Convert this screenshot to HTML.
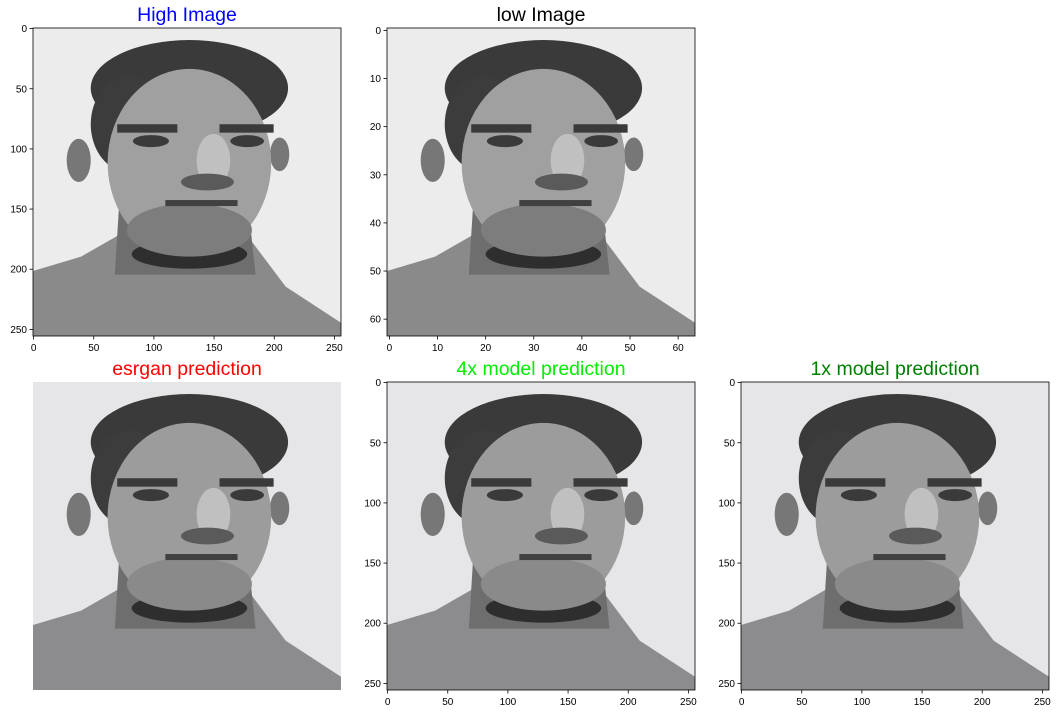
<!DOCTYPE html>
<html><head><meta charset="utf-8"><style>
html,body{margin:0;padding:0;background:#fff;}
svg{display:block;font-family:"Liberation Sans","DejaVu Sans",sans-serif;}
</style></head><body>
<svg id="fig" width="1059" height="714" viewBox="0 0 1059 714"></svg>
<script>
const NS="http://www.w3.org/2000/svg";
const panelTitles=["High Image","low Image","esrgan prediction","4x model prediction","1x model prediction"];
const titleColors=["#0000ff","#000000","#ff0000","#00ee00","#008000"];
const imageSizes=[256,64,256,256,256];
const showAxes=[true,true,false,true,true];
const ticks256=[0,50,100,150,200,250];
const ticks64=[0,10,20,30,40,50,60];
const panelBoxes=[[33,28],[387,28],[33,382],[387,382],[741,382]];
const PW=308,PH=308;
const svg=document.getElementById('fig');
function mk(tag,attrs,parent){const e=document.createElementNS(NS,tag);for(const k in attrs)e.setAttribute(k,attrs[k]);(parent||svg).appendChild(e);return e;}
function face(g,s,style){
  // s: scale from 256-unit coordinates to pixels
  const T=v=>v*s;
  const soft=style>0;
  mk('rect',{x:0,y:0,width:T(256),height:T(256),fill:soft?'#e6e6e8':'#ececec'},g);
  mk('polygon',{points:[[0,202],[40,190],[75,170],[180,175],[210,215],[256,245],[256,256],[0,256]].map(p=>T(p[0])+','+T(p[1])).join(' '),fill:soft?'#8c8c8e':'#8a8a8a'},g);
  mk('polygon',{points:[[72,140],[178,140],[185,205],[68,205]].map(p=>T(p[0])+','+T(p[1])).join(' '),fill:'#6e6e6e'},g);
  mk('ellipse',{cx:T(130),cy:T(50),rx:T(82),ry:T(40),fill:'#3a3a3a'},g);
  mk('ellipse',{cx:T(80),cy:T(80),rx:T(32),ry:T(40),fill:'#3c3c3c'},g);
  mk('ellipse',{cx:T(38),cy:T(110),rx:T(10),ry:T(18),fill:'#777'},g);
  mk('ellipse',{cx:T(205),cy:T(105),rx:T(8),ry:T(14),fill:'#777'},g);
  mk('ellipse',{cx:T(130),cy:T(112),rx:T(68),ry:T(78),fill:soft?'#9c9c9c':'#a0a0a0'},g);
  mk('ellipse',{cx:T(130),cy:T(188),rx:T(48),ry:T(12),fill:'#2e2e2e'},g);
  mk('ellipse',{cx:T(130),cy:T(168),rx:T(52),ry:T(22),fill:soft?'#8a8a8a':'#7d7d7d'},g);
  mk('rect',{x:T(70),y:T(80),width:T(50),height:T(7),fill:'#3a3a3a'},g);
  mk('rect',{x:T(155),y:T(80),width:T(45),height:T(7),fill:'#3a3a3a'},g);
  mk('ellipse',{cx:T(98),cy:T(94),rx:T(15),ry:T(5),fill:'#3a3a3a'},g);
  mk('ellipse',{cx:T(178),cy:T(94),rx:T(14),ry:T(5),fill:'#3a3a3a'},g);
  mk('ellipse',{cx:T(150),cy:T(110),rx:T(14),ry:T(22),fill:'#c0c0c0'},g);
  mk('ellipse',{cx:T(145),cy:T(128),rx:T(22),ry:T(7),fill:'#5a5a5a'},g);
  mk('rect',{x:T(110),y:T(143),width:T(60),height:T(5),fill:'#404040'},g);
}
panelTitles.forEach((title,i)=>{
  const [x0,y0]=panelBoxes[i];
  const n=imageSizes[i];
  const xs=v=>x0+v*PW/n;
  const ys=v=>y0+v*PH/n;
  const g=mk('g',{transform:`translate(${x0},${y0})`});
  
  
  mk('clipPath',{id:'c'+i},g);
  face(g,PW/256,i>=2?1:0);
  const t=mk('text',{x:x0+PW/2,y:y0-7,'text-anchor':'middle','font-size':'19.5',fill:titleColors[i]});
  t.textContent=title;
  
  
  if(!showAxes[i]) return;
  const fr=mk('rect',{x:x0,y:y0,width:PW,height:PH,fill:'none',stroke:'#000','stroke-width':0.8});
  
  
  const tk=n===64?ticks64:ticks256;
  tk.forEach(v=>{
    const px=xs(v+0.5),py=ys(v+0.5);
    mk('line',{x1:px,y1:y0+PH,x2:px,y2:y0+PH+3.5,stroke:'#000','stroke-width':0.8});
    const lx=mk('text',{x:px,y:y0+PH+15,'text-anchor':'middle','font-size':'10',fill:'#000'});
    lx.textContent=v;
    
    
    mk('line',{x1:x0,y1:py,x2:x0-3.5,y2:py,stroke:'#000','stroke-width':0.8});
    const ly=mk('text',{x:x0-6,y:py+3.5,'text-anchor':'end','font-size':'10',fill:'#000'});
    ly.textContent=v;
    
    
  });
});
</script>
</body></html>
